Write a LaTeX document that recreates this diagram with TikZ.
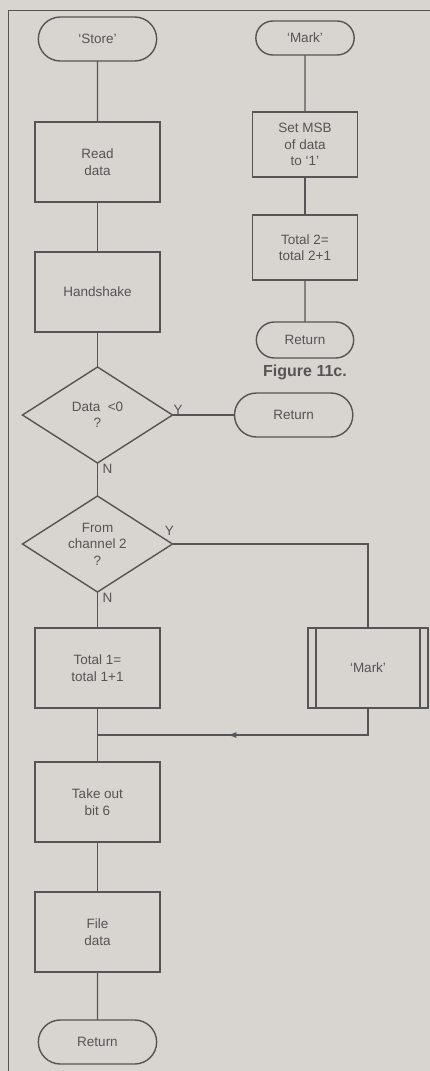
\documentclass[tikz,border=0pt]{standalone}
\usepackage{fontspec}
\setmainfont{Liberation Sans}
\usetikzlibrary{arrows.meta, positioning, shapes.geometric, shapes.misc, calc}
\definecolor{paper}{HTML}{D8D4CF}
\definecolor{ink}{HTML}{555555}

\begin{document}
\begin{tikzpicture}[
    node distance=50pt,
    every node/.style={font=\fontsize{13.5}{16.5}\selectfont, text=ink, outer sep=0pt},
    box/.style={draw=ink, line width=1.4pt, minimum width=125pt, minimum height=80pt, align=center},
    term/.style={draw=ink, line width=1.4pt, rounded rectangle, minimum width=125pt, minimum height=44pt, align=center},
    decision/.style={draw=ink, line width=1.4pt, diamond, aspect=1.5, inner sep=0pt, minimum width=150pt, minimum height=96pt, align=center},
    flow/.style={draw=ink, line width=1.4pt},
    lbl/.style={inner sep=1pt},
]

% Paper and frame
\fill[paper] (0,0) rectangle (430pt,-1071pt);
\useasboundingbox (0,0) rectangle (430pt,-1071pt);
\draw[ink, line width=0.8pt] (430pt,-10pt) -- (8pt,-10pt) -- (8pt,-1071pt);

% Main routine
\node[term] (store) at (97.5pt,-39pt) {`Store'};
\node[box, below=61pt of store] (read) {Read\\data};
\node[box, below=50pt of read] (hand) {Handshake};
\node[decision, below=35pt of hand] (data) {Data~~<0\\?};
\node[decision, below=33pt of data] (chan) {From\\channel 2\\?};
\node[box, below=36pt of chan] (tot1) {Total 1=\\total 1+1};
\node[box, below=54pt of tot1] (take) {Take out\\bit 6};
\node[box, below=50pt of take] (file) {File\\data};
\node[term, below=48pt of file] (ret) {Return};

% Branches
\node[term, right=62pt of data] (exit) {Return};
\node[box, minimum width=120pt, right=148pt of tot1] (markcall) {`Mark'};
\draw[flow] ([xshift=8pt]markcall.north west) -- ([xshift=8pt]markcall.south west);
\draw[flow] ([xshift=-8pt]markcall.north east) -- ([xshift=-8pt]markcall.south east);

% Subroutine 'Mark'
\node[term, minimum width=105pt, minimum height=34pt] (mark) at (305pt,-38pt) {`Mark'};
\node[box, minimum width=105pt, minimum height=65pt, below=57pt of mark] (setmsb) {Set MSB\\of data\\to `1'};
\node[box, minimum width=105pt, minimum height=65pt, below=38pt of setmsb] (tot2) {Total 2=\\total 2+1};
\node[term, minimum width=104pt, minimum height=36pt, below=42pt of tot2] (mret) {Return};
\node[below=4pt of mret, font=\bfseries\fontsize{16}{18}\selectfont] (fig) {Figure 11c.};

% Connectors
\draw[flow] (store) -- (read);
\draw[flow] (read) -- (hand);
\draw[flow] (hand) -- (data);
\draw[flow] (data) -- (chan);
\draw[flow] (chan) -- (tot1);
\draw[flow] (tot1) -- (take);
\draw[flow] (take) -- (file);
\draw[flow] (file) -- (ret);
\draw[flow] (data) -- (exit);
\draw[flow] (chan.east) -| (markcall.north);
\coordinate (join) at ($(tot1.south)!0.5!(take.north)$);
\draw[flow] (markcall.south) |- (join);
\draw[flow, -{Latex[length=9pt,width=6pt]}] (markcall.south |- join) -- ($(markcall.south |- join)!0.52!(join)$);
\draw[flow] (mark) -- (setmsb);
\draw[flow] (setmsb) -- (tot2);
\draw[flow] (tot2) -- (mret);

% Y/N labels
\node[lbl, anchor=south west] (y1) at (data.east) {Y};
\node[lbl, anchor=north west, xshift=4pt] (n1) at (data.south) {N};
\node[lbl, anchor=south, xshift=-3pt, yshift=8pt] (y2) at (chan.east) {Y};
\node[lbl, anchor=north west, xshift=4pt] (n2) at (chan.south) {N};

\end{tikzpicture}
\end{document}
